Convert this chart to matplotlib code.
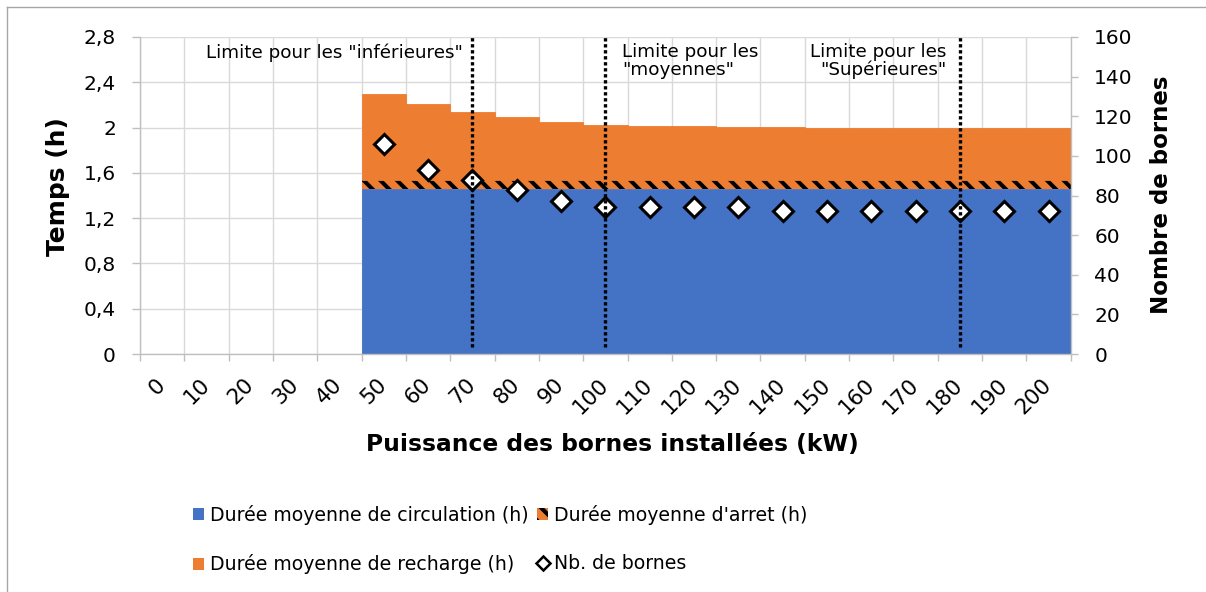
import numpy as np
import matplotlib
matplotlib.use("Agg")
import matplotlib.pyplot as plt
from matplotlib.patches import Patch
from matplotlib.lines import Line2D

# ---------------- data ----------------
puissance = [0, 10, 20, 30, 40, 50, 60, 70, 80, 90, 100, 110, 120, 130, 140,
             150, 160, 170, 180, 190, 200]
circulation = [0, 0, 0, 0, 0, 1.46, 1.46, 1.46, 1.46, 1.46, 1.46, 1.46, 1.46,
               1.46, 1.46, 1.46, 1.46, 1.46, 1.46, 1.46, 1.46]
arret = [0, 0, 0, 0, 0, 0.08, 0.08, 0.08, 0.08, 0.08, 0.08, 0.08, 0.08, 0.08,
         0.08, 0.08, 0.08, 0.08, 0.08, 0.08, 0.08]
recharge = [0, 0, 0, 0, 0, 0.76, 0.67, 0.60, 0.55, 0.51, 0.48, 0.475, 0.47,
            0.465, 0.463, 0.46, 0.458, 0.457, 0.455, 0.454, 0.453]
nb_bornes = [np.nan, np.nan, np.nan, np.nan, np.nan, 106, 93, 88, 83, 77, 74,
             74, 74, 74, 72, 72, 72, 72, 72, 72, 72]
limites = [70, 100, 180]
limite_labels = ['Limite pour les "inférieures"',
                 'Limite pour les\n"moyennes"',
                 'Limite pour les\n"Supérieures"']
y_ticks = [0, 0.4, 0.8, 1.2, 1.6, 2.0, 2.4, 2.8]
y_ticklabels = ["0", "0,4", "0,8", "1,2", "1,6", "2", "2,4", "2,8"]
y2_ticks = [0, 20, 40, 60, 80, 100, 120, 140, 160]

# ---------------- style ----------------
plt.rcParams["font.family"] = ["DejaVu Sans"]
plt.rcParams["hatch.linewidth"] = 2.9
BLUE = "#4472C4"
ORANGE = "#ED7D31"
GRID = "#D9D9D9"
AXIS = "#BFBFBF"
HATCH = "\\\\"

W, H, DPI = 1206, 592, 100
fig = plt.figure(figsize=(W / DPI, H / DPI), dpi=DPI)
L, R, T, B = 140, 1070.7, 37, 354
ax = fig.add_axes([L / W, 1 - B / H, (R - L) / W, (B - T) / H])
ax2 = ax.twinx()

x = np.arange(len(puissance))
circ = np.array(circulation)
arr = np.array(arret)
rec = np.array(recharge)

ax.bar(x, circ, width=1.0, color=BLUE, edgecolor=BLUE, linewidth=0.6, zorder=2)
ax.bar(x, arr, bottom=circ, width=1.0, facecolor=ORANGE, edgecolor="black",
       hatch=HATCH, linewidth=0, zorder=2)
ax.bar(x, rec, bottom=circ + arr, width=1.0, color=ORANGE, edgecolor=ORANGE,
       linewidth=0.6, zorder=2)

ax2.plot(x, nb_bornes, linestyle="none", marker="D", markersize=9.7,
         markerfacecolor="white", markeredgecolor="black", markeredgewidth=2.2,
         zorder=3)

for v in limites:
    ax2.axvline(puissance.index(v), ymin=0.022, ymax=1.0, color="black",
                linewidth=2.4, linestyle=(0, (1, 0.8)), zorder=5)

# annotations for limits
offs = [(-6.5, -11.5, "right", "center"), (12, -4, "left", "top"),
        (-9.4, -4, "right", "top")]
for v, lab, (dx, dy, ha, va) in zip(limites, limite_labels, offs):
    ax2.annotate(lab, xy=(puissance.index(v), 1.0),
                 xycoords=("data", "axes fraction"), xytext=(dx, dy),
                 textcoords="offset points", ha=ha, va=va, fontsize=13.2,
                 linespacing=1.0, multialignment="right" if ha == "right" else "left",
                 zorder=6)

# axes limits / ticks
ax.set_xlim(-0.5, len(puissance) - 0.5)
ax.set_ylim(0, 2.8)
ax2.set_ylim(0, 160)

ax.set_xticks(np.arange(-0.5, len(puissance), 1.0))
ax.set_xticklabels([])
ax.set_xticks(x, minor=True)
ax.set_xticklabels([str(p) for p in puissance], minor=True, rotation=45,
                   ha="right", va="center", rotation_mode="anchor", fontsize=15.5)
ax.tick_params(axis="x", which="major", length=5, width=1, color=AXIS, direction="out")
ax.tick_params(axis="x", which="minor", length=0, pad=20)

ax.set_yticks(y_ticks)
ax.set_yticklabels(y_ticklabels, fontsize=14.5)
ax.tick_params(axis="y", length=5.8, width=1, color=AXIS, pad=11.5)

ax2.set_yticks(y2_ticks)
ax2.set_yticklabels([str(v) for v in y2_ticks], fontsize=14.5)
ax2.tick_params(axis="y", length=5, width=1, color=AXIS, pad=12)

ax.grid(True, axis="both", which="major", color=GRID, linewidth=1.0, zorder=0)
ax.set_axisbelow(True)

for s in ["top", "right"]:
    ax.spines[s].set_visible(False)
for s in ["left", "bottom"]:
    ax.spines[s].set_color(AXIS)
    ax.spines[s].set_linewidth(1.0)
for s in ["top", "left", "bottom"]:
    ax2.spines[s].set_visible(False)
ax2.spines["right"].set_color(AXIS)
ax2.spines["right"].set_linewidth(1.0)

# axis titles
fig.text(58 / W, 1 - 187 / H, "Temps (h)", rotation=90, ha="center", va="center",
         fontsize=18, fontweight="bold")
fig.text(1162 / W, 1 - 195 / H, "Nombre de bornes", rotation=90, ha="center",
         va="center", fontsize=16.5, fontweight="bold")
fig.text(612 / W, 1 - 451 / H, "Puissance des bornes installées (kW)", ha="center",
         va="baseline", fontsize=16.8, fontweight="bold")

# legend
h_circ = Patch(facecolor=BLUE, edgecolor=BLUE, linewidth=0)
h_rec = Patch(facecolor=ORANGE, edgecolor=ORANGE, linewidth=0)
h_arr = Patch(facecolor=ORANGE, edgecolor="black", hatch=HATCH, linewidth=0)
h_nb = Line2D([], [], linestyle="none", marker="D", markersize=7.5,
              markerfacecolor="white", markeredgecolor="black", markeredgewidth=1.8)
fig.legend([h_circ, h_rec, h_arr, h_nb],
           ["Durée moyenne de circulation (h)", "Durée moyenne de recharge (h)",
            "Durée moyenne d'arret (h)", "Nb. de bornes"],
           ncol=2, loc="upper left", bbox_to_anchor=(193 / W, 1 - 505 / H),
           frameon=False, fontsize=13.6, borderpad=0, borderaxespad=0,
           handlelength=0.6, handleheight=0.6, handletextpad=0.3,
           columnspacing=0.45, labelspacing=1.55)

# chart-area border (left and top edges visible)
bx, by = 7 / W, 1 - 7 / H
fig.add_artist(Line2D([bx, bx], [0, by], transform=fig.transFigure, color="#A6A6A6", lw=1))
fig.add_artist(Line2D([bx, 1], [by, by], transform=fig.transFigure, color="#A6A6A6", lw=1))

fig.savefig("out.png", dpi=DPI)
